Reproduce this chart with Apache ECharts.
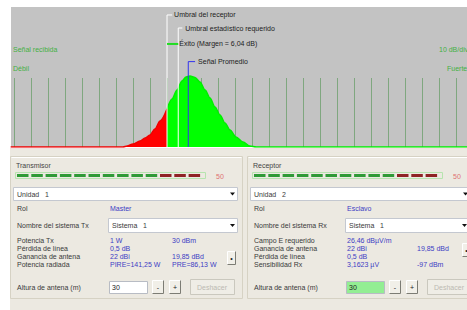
<!DOCTYPE html>
<html>
<head>
<meta charset="utf-8">
<script src="https://cdn.jsdelivr.net/npm/echarts@6/dist/echarts.min.js"></script>
<style>
    body { margin: 0; background: #fff; }
    #main { width: 467px; height: 310px; }
</style>
</head>
<body>
<div id="main"></div>
<script>
// curve: x in grid divisions (0 = first grid line), y in % of plot height
var failX = [-0.2, 4, 6.41, 6.65, 7.0, 7.41, 7.71, 8.0, 8.29, 8.59, 9.0];
var failY = [0, 0, 0, 0.7, 2.1, 4.3, 6.4, 8.6, 12.9, 18.6, 27.1];
var passX = [9.0, 9.29, 9.59, 9.88, 10.12, 10.35, 10.65, 10.94, 11.24, 11.53, 11.82, 12.12, 12.41, 12.71, 13.06, 13.47, 13.88, 14.24, 20, 26.8];
var passY = [27.1, 34.3, 40.7, 47.1, 50, 50.7, 49.6, 46.4, 40.7, 35, 28.6, 22.9, 17.1, 12.1, 7.1, 3.6, 0.7, 0, 0, 0];

// reference marks
var markNames = ['Umbral del receptor', 'Umbral estadístico requerido', 'Éxito (Margen = 6,04 dB)', 'Señal Promedio'];
var markX = [[9, 9, 9.3], [9.66, 9.66, 9.9], [9.0, 9.66], [10.25, 10.25, 10.65]];
var markY = [[0, 94.3, 94.3], [0, 85, 85], [73.6, 73.6], [0, 61, 61]];

// panel texts
var txRows = [['Potencia Tx', '1 W', '30 dBm'], ['Pérdida de línea', '0,5 dB', ''],
    ['Ganancia de antena', '22 dBi', '19,85 dBd'], ['Potencia radiada', 'PIRE=141,25 W', 'PRE=86,13 W']];
var rxRows = [['Campo E requerido', '26,46 dBµV/m', ''], ['Ganancia de antena', '22 dBi', '19,85 dBd'],
    ['Pérdida de línea', '0,5 dB', ''], ['Sensibilidad Rx', '3,1623 µV', '-97 dBm']];
var ledGreen = 10, ledRed = 3;

var FONT = '7px "Liberation Sans", Arial, sans-serif';
var markColors = ['#ffffff', '#ffffff', '#22dd22', '#3333ee'];
var markWidth = [1, 1, 2, 1];
var markDist = [2, 3, 1, 3];

function zip(xs, ys) {
    var out = [];
    for (var i = 0; i < xs.length; i++) out.push([xs[i], ys[i]]);
    return out;
}

function txt(x, y, s, color, align) {
    return {
        type: 'text', x: x, y: y, silent: true,
        style: {text: s, fill: color || '#3a3a3a', font: FONT, verticalAlign: 'middle', align: align || 'left'}
    };
}

function rect(x, y, w, h, fill, stroke) {
    return {
        type: 'rect', silent: true,
        shape: {x: x + 0.5, y: y + 0.5, width: w, height: h},
        style: {fill: fill || 'none', stroke: stroke || 'none', lineWidth: 1}
    };
}

function pline(points, stroke) {
    return {type: 'polyline', silent: true, shape: {points: points}, style: {stroke: stroke, fill: 'none', lineWidth: 1}};
}

function button(x, y, w, h, label, color) {
    return [
        rect(x, y, w, h, '#f1efe8', null),
        pline([[x + 0.5, y + h + 0.5], [x + 0.5, y + 0.5], [x + w + 0.5, y + 0.5]], '#ffffff'),
        pline([[x + w + 0.5, y + 0.5], [x + w + 0.5, y + h + 0.5], [x + 0.5, y + h + 0.5]], '#7c7c74'),
        txt(x + w / 2 + 0.5, y + h / 2 + 0.5, label, color || '#222', 'center')
    ];
}

function dropdown(x, y, w, h, label) {
    var ax = x + w - 7;
    var ay = y + h / 2 - 1;
    return [
        rect(x, y, w, h, '#ffffff', '#c4c8d0'),
        txt(x + 4, y + h / 2 + 0.5, label),
        {type: 'polygon', silent: true, shape: {points: [[ax, ay], [ax + 5, ay], [ax + 2.5, ay + 3]]}, style: {fill: '#111'}}
    ];
}

function panel(p) {
    var o = p.ox;
    var els = [];
    els.push(rect(o + 10, 156, 232, 142, null, '#d6d2c4'));
    els.push(pline([[o + 11.5, 157.5], [o + 241.5, 157.5]], '#ffffff'));
    els.push(txt(o + 16, 165, p.title, '#444'));
    // level meter
    els.push(rect(o + 15, 172, 190, 6, null, '#b6e4ae'));
    for (var i = 0; i < ledGreen + ledRed; i++) {
        els.push({
            type: 'rect', silent: true,
            shape: {x: o + 17 + i * 14.3, y: 174, width: 11.5, height: 3},
            style: {fill: i < ledGreen ? '#2f9a36' : '#8e2424'}
        });
    }
    els.push(txt(o + 216, 176, '50', '#e07272'));
    els = els.concat(dropdown(o + 13, 187, p.unitW, 13, p.unit));
    els.push(txt(o + 17, 208, 'Rol'));
    els.push(txt(o + 110, 208, p.role, '#3d3dc4'));
    els.push(txt(o + 17, 225, p.sysLabel));
    els = els.concat(dropdown(o + 108, 218, p.sysW, 14, 'Sistema   1'));
    for (var r = 0; r < p.rows.length; r++) {
        var y = 240 + r * 8;
        els.push(txt(o + 17, y, p.rows[r][0]));
        els.push(txt(o + 110, y, p.rows[r][1], '#3d3dc4'));
        if (p.rows[r][2]) els.push(txt(o + p.col2, y, p.rows[r][2], '#3d3dc4'));
        if (r === p.gainRow) els = els.concat(button(o + p.gainBtn, y - 5, 8, 13, '•'));
    }
    els.push(txt(o + 17, 287, 'Altura de antena (m)'));
    els.push(rect(o + 109, 281, 38, 12, p.inputFill, '#b8bcc4'));
    els.push(txt(o + 112, 287.5, '30', '#222'));
    els = els.concat(button(o + 152, 280, 11, 13, '-'));
    els = els.concat(button(o + 169, 280, 11, 13, '+'));
    els.push(rect(o + 190, 279, 44, 15, '#efede6', '#cac8be'));
    els.push(txt(o + 212, 287, 'Deshacer', '#bcbab2', 'center'));
    return els;
}

var graphics = [
    rect(9.5, 147.5, 458, 163, '#ece9e1', null),
    pline([[10, 148.5], [467, 148.5]], '#f2dede'),
    txt(13, 49, 'Señal recibida', '#44b044'),
    txt(13, 68, 'Débil', '#44b044'),
    txt(439, 49, '10 dB/div', '#44b044'),
    txt(447, 68, 'Fuerte', '#44b044')
];
graphics = graphics.concat(panel({
    ox: 0, title: 'Transmisor', unit: 'Unidad   1', unitW: 224, role: 'Master',
    sysLabel: 'Nombre del sistema Tx', sysW: 129, rows: txRows, col2: 172, gainRow: 2, gainBtn: 227,
    inputFill: '#ffffff'
}));
graphics = graphics.concat(panel({
    ox: 237, title: 'Receptor', unit: 'Unidad   2', unitW: 220, role: 'Esclavo',
    sysLabel: 'Nombre del sistema Rx', sysW: 124, rows: rxRows, col2: 180, gainRow: 1, gainBtn: 225,
    inputFill: '#93ee93'
}));

var series = [
    {
        name: 'fail', type: 'line', xAxisIndex: 0, yAxisIndex: 0,
        data: zip(failX, failY), smooth: 0.3, smoothMonotone: 'x', symbol: 'none', z: 3,
        lineStyle: {color: '#f00000', width: 1.5},
        areaStyle: {color: '#ff0000', opacity: 1}
    },
    {
        name: 'pass', type: 'line', xAxisIndex: 0, yAxisIndex: 0,
        data: zip(passX, passY), smooth: 0.3, smoothMonotone: 'x', symbol: 'none', z: 3,
        lineStyle: {color: '#00ee00', width: 1.5},
        areaStyle: {color: '#00ff00', opacity: 1}
    }
];
for (var m = 0; m < markNames.length; m++) {
    series.push({
        name: markNames[m], type: 'line', xAxisIndex: 0, yAxisIndex: 0,
        data: zip(markX[m], markY[m]), symbol: 'none', z: 5, clip: false,
        lineStyle: {color: markColors[m], width: markWidth[m]},
        endLabel: {
            show: true, distance: markDist[m], color: '#1c1c1c', fontSize: 7,
            fontFamily: '"Liberation Sans", Arial, sans-serif',
            formatter: function (p) { return p.seriesName; }
        }
    });
}

var myChart = echarts.init(document.getElementById('main'), null, {renderer: 'svg'});
var option = {
    animation: false,
    grid: [
        {left: 11, top: 7, right: 0, height: 140, show: true, backgroundColor: '#c3c3c3', borderWidth: 0},
        {left: 14, top: 78, right: 0, height: 69, show: false}
    ],
    xAxis: [
        {type: 'value', gridIndex: 0, min: -0.18, max: 26.65, show: false},
        {
            type: 'value', gridIndex: 1, min: 0, max: 26.65, interval: 1,
            axisLine: {show: false}, axisTick: {show: false}, axisLabel: {show: false},
            splitLine: {show: true, showMaxLine: false, lineStyle: {color: '#7fa77f', width: 1}}
        }
    ],
    yAxis: [
        {type: 'value', gridIndex: 0, min: 0, max: 100, show: false},
        {type: 'value', gridIndex: 1, min: 0, max: 1, show: false}
    ],
    graphic: graphics,
    series: series
};
myChart.setOption(option);
</script>
</body>
</html>
